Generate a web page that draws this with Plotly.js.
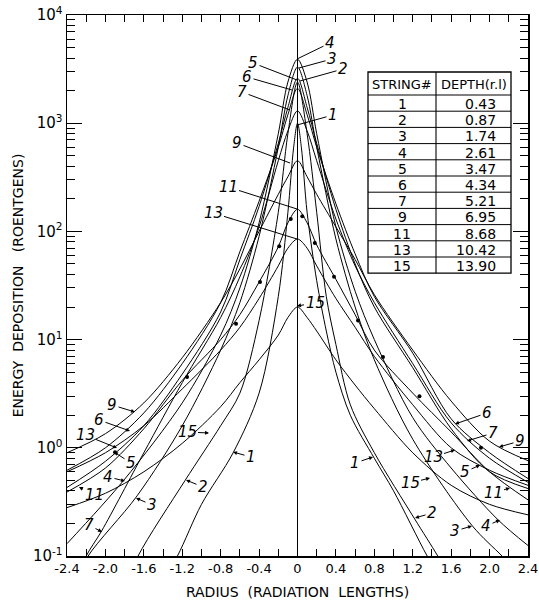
<!DOCTYPE html>
<html><head><meta charset="utf-8">
<script src="https://cdn.plot.ly/plotly-3.0.1.min.js"></script>
<style>html,body{margin:0;padding:0;background:#fff}</style>
</head><body><div id="chart" style="width:539px;height:602px"></div>
<script>
// ---- data (energy deposition, roentgens) ----
const gridX = [-2.4,-2.0,-1.6,-1.2,-0.8,-0.6,-0.4,-0.2,-0.1,0,0.1,0.2,0.4,0.6,0.8,1.2,1.6,2.0,2.4];

const s1x = [-1.45,-1.25,-1.0,-0.67,-0.4,-0.2,-0.1,-0.04,0,0.04,0.1,0.2,0.3,0.4,0.55,0.8,1.0,1.35,1.5];
const s1v = [0.05,0.1,0.3,0.9,3.2,25,150,600,1000,600,150,35,12,5,2,0.8,0.4,0.1,0.06];

const s2x = [-1.8,-1.66,-1.17,-0.8,-0.6,-0.4,-0.2,-0.1,0,0.1,0.2,0.3,0.4,0.55,0.8,1.22,1.46,1.6];
const s2v = [0.05,0.1,0.5,1.6,3.2,15,150,800,2400,800,150,25,9,2.5,0.9,0.22,0.1,0.06];

const s3x = [-2.3,-2.18,-1.67,-1.2,-0.8,-0.6,-0.4,-0.2,-0.1,0,0.1,0.2,0.4,0.6,0.8,1.2,1.82,2.13,2.3];
const s3v = [0.06,0.1,0.36,1.6,8,22,90,600,1800,3300,1800,600,85,20,6.5,1.2,0.19,0.1,0.07];

const s4x = [-2.4,-1.81,-1.2,-0.8,-0.6,-0.4,-0.2,-0.1,0,0.1,0.2,0.4,0.6,0.8,1.2,1.6,2.09,2.4];
const s4v = [0.13,0.5,2.6,11,30,120,800,2400,3900,2400,800,110,28,10,1.9,0.65,0.215,0.125];

const s5v = [0.43,0.75,1.6,4.8,18,55,170,650,1400,2600,1400,650,160,50,20,5.5,1.5,0.6,0.42];
const s6v = [0.62,1.0,2.1,6,22,65,190,600,1200,2100,1200,600,180,62,25,7.5,1.85,0.9,0.52];

const s7x = [-2.3,-2.2,-2.04,-1.6,-1.2,-0.8,-0.6,-0.4,-0.2,-0.1,0,0.1,0.2,0.4,0.6,0.8,1.2,1.6,2.0,2.4];
const s7v = [0.06,0.1,0.17,0.9,4,16,38,110,450,850,1300,850,450,130,48,22,6,1.7,0.8,0.48];

const s9v  = [0.9,1.35,2.6,6.8,22,45,100,220,320,450,320,220,110,55,26,8,2.7,1.15,0.76];
const s11v = [0.39,0.65,1.5,4.2,10,17,34,72,120,160,120,75,36,17,8,3.2,1.4,0.6,0.33];
const s13v = [0.6,0.9,1.6,3.5,8,13,24,48,70,85,70,48,24,13,7,2.5,1.0,0.62,0.45];
const s15v = [0.28,0.38,0.6,1.1,2.4,4,6.5,11,16,20,16,12,6.5,3.8,2.3,0.9,0.45,0.3,0.24];

// measured points (dots)
const dotX = [-1.90,-1.15,-0.64,-0.39,-0.19,-0.07,0.05,0.18,0.38,0.63,0.89,1.27,1.91];
const dotV = [0.91,4.5,14,34,73,130,138,78,38,15,6.9,3.0,1.0];

// table
const tableStrings = ['1','2','3','4','5','6','7','9','11','13','15'];
const tableDepths  = ['0.43','0.87','1.74','2.61','3.47','4.34','5.21','6.95','8.68','10.42','13.90'];

// axis ticks
const xTickVals = [-2.4,-2.0,-1.6,-1.2,-0.8,-0.4,0,0.4,0.8,1.2,1.6,2.0,2.4];
const xTickText = ['-2.4','-2.0','-1.6','-1.2','-0.8','-0.4','0','0.4','0.8','1.2','1.6','2.0','2.4'];
const yDecades = [0.1,1,10,100,1000,10000];
const yDecadeText = ['10<sup>-1</sup>','10<sup>0</sup>','10<sup>1</sup>','10<sup>2</sup>','10<sup>3</sup>','10<sup>4</sup>'];

// ---- build ----
const FONT = 'DejaVu Sans, Liberation Sans, sans-serif';
const curves = [
  [s1x,s1v],[s2x,s2v],[s3x,s3v],[s4x,s4v],[gridX,s5v],[gridX,s6v],
  [s7x,s7v],[gridX,s9v],[gridX,s11v],[gridX,s13v],[gridX,s15v]
];
const traces = curves.map(([x,v]) => ({
  x: x, y: v, type:'scatter', mode:'lines',
  line:{color:'#000', width:1, shape:'spline', smoothing:0.9},
  hoverinfo:'skip', showlegend:false
}));
traces.push({x: dotX, y: dotV, type:'scatter', mode:'markers',
  marker:{color:'#000', size:4}, hoverinfo:'skip', showlegend:false});

// plot-area pixel geometry (for placing labels)
const L=67, R=528, T=15, B=556;
const pxX = px => -2.4 + (px-L)/(R-L)*4.8;
const pxY = py => 4 - (py-T)/(B-T)*5;   // log10 value
const pxPX = px => (px-L)/(R-L);
const pxPY = py => (B-py)/(B-T);

// [text, tipPx, tipPy, textPx, textPy, arrowhead]
const labels = [
  ['4',297,59,330,43,0],['3',299,68,332,59,0],['2',300,81,343,69,0],
  ['5',297,80,253,63,0],['6',292,90,247,77,0],['7',290,110,242,92,0],
  ['1',297,125,333,115,0],['9',290,163,237,143,0],['11',297,209,228,187,0],
  ['13',297,239,213,213,0],['15',297,306,315,303,2],
  ['9',135,412,112,405,2],['6',130,431,99,420,2],['13',117,448,85,435,2],
  ['5',114,452,131,463,2],['11',79,487,94,495,2],['4',125,481,108,477,2],
  ['3',136,498,152,505,2],['7',102,532,89,525,2],['2',186,480,203,487,2],
  ['15',209,433,187,432,2],['1',233,452,251,457,2],
  ['6',455,424,487,413,2],['7',467,441,493,433,2],['9',499,447,520,441,2],
  ['13',455,450,433,457,2],['5',480,465,465,472,2],['11',510,488,493,493,2],
  ['15',430,478,410,483,2],['2',415,518,432,513,2],['3',472,526,455,531,2],
  ['4',500,520,486,526,2],['1',373,457,355,463,2]
];
const annotations = labels.map(([t,tx,ty,lx,ly,ah]) => ({
  x: pxX(tx), y: pxY(ty), xref:'x', yref:'y',
  text:'<i>'+t+'</i>', showarrow:true, arrowhead:ah, arrowsize:0.8, arrowwidth:1,
  arrowcolor:'#000', ax: lx-tx, ay: ly-ty, standoff:0, startstandoff:0,
  font:{family:FONT, size:15, color:'#000'}
}));

// table
const tL=368, tR=511, tMid=436, tTop=72, tHead=95, rowH=16.2;
const tBot = tHead + rowH*tableStrings.length;
const shapes = [];
const line = (x0,y0,x1,y1,w) => shapes.push({type:'line', xref:'paper', yref:'paper', layer:'above',
  x0:pxPX(x0), y0:pxPY(y0), x1:pxPX(x1), y1:pxPY(y1), line:{color:'#000', width:w||1}});
shapes.push({type:'rect', xref:'paper', yref:'paper', x0:pxPX(tL), x1:pxPX(tR), y0:pxPY(tBot), y1:pxPY(tTop),
  fillcolor:'#fff', line:{color:'#000', width:1.3}, layer:'above'});
line(tMid,tTop,tMid,tBot,1.1);
line(tL,tHead,tR,tHead,1.1);
for (let i=1;i<tableStrings.length;i++) line(tL,tHead+rowH*i,tR,tHead+rowH*i,1);

const cell = (text, px, py, xa, size) => annotations.push({xref:'paper', yref:'paper',
  x:pxPX(px), y:pxPY(py), xanchor:xa, yanchor:'middle', text:text, showarrow:false,
  font:{family:FONT, size:size, color:'#000'}});
cell('STRING#', (tL+tMid)/2, (tTop+tHead)/2+1, 'center', 13);
cell('DEPTH(r.l)', (tMid+tR)/2, (tTop+tHead)/2+1, 'center', 13);
tableStrings.forEach((s,i)=>{
  const cy = tHead + rowH*(i+0.5) + 1;
  cell(s, (tL+tMid)/2, cy, 'center', 14);
  cell(tableDepths[i], 498, cy, 'right', 14);
});

const minorX = [];
for (let k=-11;k<=11;k+=2) minorX.push(k*0.2);
const minorY = [];
for (let e=-1;e<4;e++) for (let m=2;m<=9;m++) minorY.push(m*Math.pow(10,e));

const layout = {
  width:539, height:602,
  margin:{l:L, r:539-R, t:T, b:602-B},
  paper_bgcolor:'#fff', plot_bgcolor:'#fff', showlegend:false,
  font:{family:FONT, color:'#000'},
  xaxis:{range:[-2.4,2.4], tickmode:'array', tickvals:xTickVals, ticktext:xTickText,
    ticks:'inside', ticklen:7, tickwidth:1, tickcolor:'#000',
    minor:{tickmode:'array', tickvals:minorX, ticks:'inside', ticklen:7, tickwidth:1, tickcolor:'#000'},
    showline:true, linecolor:'#000', linewidth:1.5, mirror:'ticks', showgrid:false,
    zeroline:true, zerolinecolor:'#000', zerolinewidth:1,
    tickfont:{family:FONT, size:13, color:'#000'},
    title:{text:'RADIUS  (RADIATION  LENGTHS)', font:{family:FONT, size:14, color:'#000'}, standoff:12}},
  yaxis:{type:'log', range:[-1,4], tickmode:'array', tickvals:yDecades, ticktext:yDecadeText,
    ticks:'inside', ticklen:15, tickwidth:1, tickcolor:'#000',
    minor:{tickmode:'array', tickvals:minorY, ticks:'inside', ticklen:8, tickwidth:1, tickcolor:'#000'},
    showline:true, linecolor:'#000', linewidth:1.5, mirror:'ticks', showgrid:false, zeroline:false,
    tickfont:{family:FONT, size:15, color:'#000'},
    title:{text:'ENERGY  DEPOSITION   (ROENTGENS)', font:{family:FONT, size:14, color:'#000'}, standoff:6}},
  shapes:shapes, annotations:annotations
};
Plotly.newPlot('chart', traces, layout, {staticPlot:true, displayModeBar:false});
</script></body></html>
